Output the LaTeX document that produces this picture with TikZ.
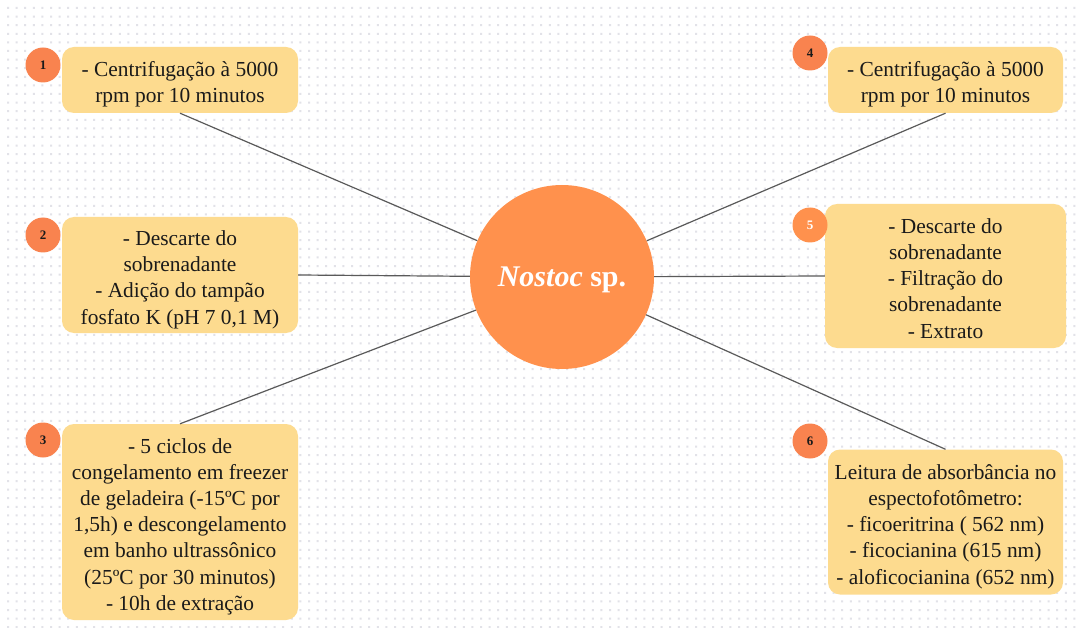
\documentclass[tikz,border=0pt]{standalone}
\usepackage{fontspec}
\setmainfont{Liberation Serif}
\definecolor{boxfill}{HTML}{FDDB8F}
\definecolor{bigorange}{HTML}{FF914D}
\definecolor{numorange}{HTML}{F9834F}
\definecolor{dotc}{HTML}{E2E2E8}
\definecolor{linec}{HTML}{5A5A5A}
\definecolor{txt}{HTML}{1A1A1A}
\newcommand{\bxtext}[1]{\raisebox{-4.5pt}[\height][\depth]{\begin{tabular}{@{}c@{}}#1\end{tabular}}}
\begin{document}
\begin{tikzpicture}[x=1pt,y=-1pt,
  stepbox/.style={draw=none,fill=boxfill,rounded corners=12pt,inner sep=0pt,
    align=center,font=\fontsize{21.4}{26.2}\selectfont,text=txt},
  numc/.style={circle,fill=numorange,minimum size=35pt,inner sep=0pt,
    font=\fontsize{13}{15}\selectfont\bfseries,text=txt},
  conn/.style={draw=linec,line width=1.2pt}]
\useasboundingbox (0,0) rectangle (1078,628);
\fill[white] (0,0) rectangle (1078,628);
\foreach \j in {0,...,72} {
  \fill[dotc] \foreach \i in {0,...,124} {(7+\i*8.6,7+\j*8.6) rectangle ++(2,2)};
}
% center
\node[circle,fill=bigorange,minimum size=184pt,inner sep=0pt,text=white,
  font=\fontsize{30}{34}\selectfont\bfseries] (c) at (562,277) {\raisebox{-3pt}[\height][\depth]{\textit{Nostoc} sp.}};
% boxes
\node[stepbox,minimum width=236pt,minimum height=66pt] (b1) at (180,80)
  {\bxtext{- Centrifugação à 5000\\rpm por 10 minutos}};
\node[stepbox,minimum width=236pt,minimum height=116pt] (b2) at (180,275)
  {\bxtext{- Descarte do\\sobrenadante\\- Adição do tampão\\fosfato K (pH 7 0,1 M)}};
\node[stepbox,minimum width=236pt,minimum height=196pt] (b3) at (180,522)
  {\bxtext{- 5 ciclos de\\congelamento em freezer\\de geladeira (-15ºC por\\1,5h) e descongelamento\\em banho ultrassônico\\(25ºC por 30 minutos)\\- 10h de extração}};
\node[stepbox,minimum width=235pt,minimum height=66pt] (b4) at (945.5,80)
  {\bxtext{- Centrifugação à 5000\\rpm por 10 minutos}};
\node[stepbox,minimum width=241pt,minimum height=144pt] (b5) at (945.5,276)
  {\bxtext{- Descarte do\\sobrenadante\\- Filtração do\\sobrenadante\\- Extrato}};
\node[stepbox,minimum width=235pt,minimum height=145pt] (b6) at (945.5,522)
  {\bxtext{Leitura de absorbância no\\espectofotômetro:\\- ficoeritrina ( 562 nm)\\- ficocianina (615 nm)\\- aloficocianina (652 nm)}};
% connectors
\draw[conn] (b1.south) -- (c);
\draw[conn] (b2.east) -- (c);
\draw[conn] (b3.north) -- (c);
\draw[conn] (b4.south) -- (c);
\draw[conn] (b5.west) -- (c);
\draw[conn] (b6.north) -- (c);
% number badges
\node[numc] (n1) at (43,65) {1};
\node[numc] (n2) at (43,235) {2};
\node[numc] (n3) at (43,440) {3};
\node[numc] (n4) at (810,53) {4};
\node[numc,fill=bigorange,text=white] (n5) at (810,225) {5};
\node[numc] (n6) at (810,441) {6};
\end{tikzpicture}
\end{document}
